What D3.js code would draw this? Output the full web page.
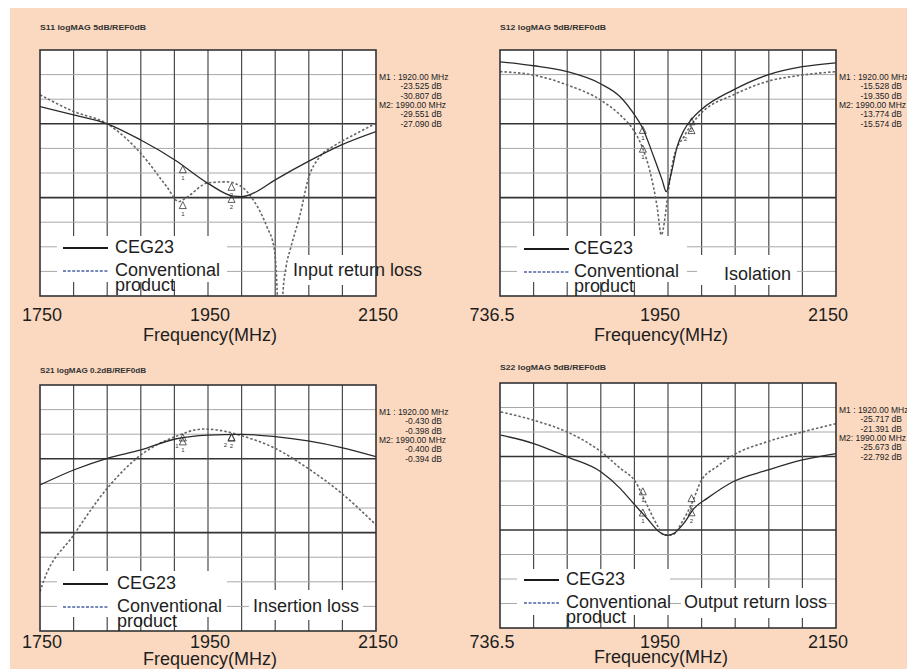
<!DOCTYPE html>
<html>

<style>
    body {
        margin: 0;
        background: #fff;
        font-family: "Liberation Sans", Arial, Helvetica, sans-serif;
    }

    text.big {
        font-size: 18px;
        fill: #1e1e1e;
    }

    text.readout {
        font-size: 8.5px;
        fill: #222;
    }

    text.title {
        font-size: 8px;
        font-weight: bold;
        fill: #333;
    }
</style>

<body>
    <svg id='viz' width='907' height='669'></svg>

<script src="https://cdnjs.cloudflare.com/ajax/libs/d3/7.8.5/d3.min.js"></script>

<script>
    // x axis of every panel: 1750 - 2150 MHz, 10 divisions
    var freqDomain = [1750, 2150];
    var tickFreqs = [1750, 1950, 2150];
    var tickLabelsLeft = ['1750', '1950', '2150'];
    var tickLabelsRight = ['736.5', '1950', '2150'];

    // marker frequencies as printed, and where the triangles sit on the drawn trace
    var markerFreqs = [1920, 1990];
    var markerTraceFreqs = [1920, 1978];

    // S11 input return loss (dB)
    var s11CegFreq = [1750, 1790, 1830, 1870, 1911, 1950, 1980, 1990, 2004, 2030, 2069, 2109, 2150];
    var s11CegDb = [-11.5, -13.2, -15.0, -18.3, -22.4, -27.1, -29.7, -29.8, -29.1, -26.4, -22.7, -19.3, -16.6];
    var s11ConvFreq = [1750, 1790, 1830, 1870, 1901, 1915, 1925, 1950, 1972, 1990, 2004, 2020, 2029, 2032.5, 2035.5, 2039, 2043, 2048, 2060, 2069, 2083, 2099, 2123, 2150];
    var s11ConvDb = [-9.1, -12.5, -15.0, -21.0, -27.8, -30.8, -29.9, -27.0, -26.8, -27.8, -30.5, -35.9, -40.5, -50, -70, -50, -44, -40.5, -33.2, -26.4, -21.7, -19.6, -17.3, -14.9];
    var s11Readout = [[-23.525, -30.807], [-29.551, -27.090]];

    // S12 isolation (dB)
    var s12CegFreq = [1750, 1790, 1830, 1869, 1893, 1909, 1919, 1933, 1943, 1948, 1953, 1961, 1969, 1979, 1989, 2028, 2068, 2110, 2150];
    var s12CegDb = [-2.4, -3.2, -4.4, -6.8, -9.5, -12.9, -15.6, -21.7, -26.4, -28.8, -25.7, -19.6, -16.3, -13.9, -12.2, -8.1, -5.1, -3.4, -2.6];
    var s12ConvFreq = [1750, 1790, 1830, 1870, 1893, 1909, 1919, 1929, 1937, 1942, 1946, 1949, 1957, 1969, 1979, 1989, 2028, 2068, 2110, 2150];
    var s12ConvDb = [-4.4, -5.1, -7.1, -10.2, -13.2, -16.3, -19.6, -25.0, -31.8, -37.6, -34.6, -30.5, -21.7, -17.6, -14.9, -12.9, -9.1, -6.4, -5.1, -4.4];
    var s12Readout = [[-15.528, -19.350], [-13.774, -15.574]];

    // S21 insertion loss (dB)
    var s21CegFreq = [1750, 1790, 1830, 1870, 1911, 1950, 1990, 2030, 2069, 2109, 2150];
    var s21CegDb = [-0.813, -0.691, -0.596, -0.528, -0.439, -0.407, -0.401, -0.420, -0.455, -0.509, -0.583];
    var s21ConvFreq = [1750, 1754, 1790, 1830, 1870, 1911, 1944, 1972, 1990, 2030, 2069, 2109, 2150];
    var s21ConvDb = [-1.68, -1.60, -1.22, -0.84, -0.569, -0.420, -0.358, -0.379, -0.412, -0.515, -0.678, -0.880, -1.138];
    var s21Readout = [[-0.430, -0.398], [-0.400, -0.394]];

    // S22 output return loss (dB)
    var s22CegFreq = [1751, 1790, 1830, 1870, 1893, 1909, 1925, 1939, 1949, 1957, 1969, 1981, 1997, 2028, 2068, 2110, 2150];
    var s22CegDb = [-10.65, -12.35, -15.06, -18.1, -21.5, -24.6, -27.6, -30.3, -31.1, -30.7, -28.6, -25.6, -23.5, -20.1, -17.8, -15.7, -14.4];
    var s22ConvFreq = [1751, 1790, 1830, 1870, 1893, 1911, 1925, 1937, 1945, 1955, 1967, 1981, 1989, 2008, 2028, 2068, 2110, 2150];
    var s22ConvDb = [-5.9, -7.6, -10.0, -14.0, -17.4, -20.1, -24.9, -29.0, -31.0, -31.0, -28.3, -23.5, -20.1, -17.1, -14.7, -12.0, -10.0, -8.3];
    var s22Readout = [[-25.717, -21.391], [-25.673, -22.792]];

    var seriesNames = ['CEG23', 'Conventional', 'product'];

    // layout of the four panels
    var panels = [
        { x0: 40, y0: 50, h: 246, perDiv: 5, title: 'S11 logMAG 5dB/REF0dB', titleY: 30,
          ceg: [s11CegFreq, s11CegDb], conv: [s11ConvFreq, s11ConvDb], readout: s11Readout,
          ticks: tickLabelsLeft, tickDx: 2, tickDy: 25, freqX: 170, freqDy: 45,
          legLine: [23, 68], legText: 75, legY: [203, 226, 241], legBox: [17, 187],
          label: 'Input return loss', labelX: 253, labelY: 226, labelBox: [247, 336] },
        { x0: 500, y0: 50, h: 246, perDiv: 5, title: 'S12 logMAG 5dB/REF0dB', titleY: 30,
          ceg: [s12CegFreq, s12CegDb], conv: [s12ConvFreq, s12ConvDb], readout: s12Readout,
          ticks: tickLabelsRight, tickDx: -8, tickDy: 25, freqX: 161, freqDy: 45,
          legLine: [24, 69], legText: 74, legY: [204, 227, 242], legBox: [17, 187],
          label: 'Isolation', labelX: 224, labelY: 230, labelBox: [197, 297] },
        { x0: 40, y0: 385, h: 246, perDiv: 0.2, title: 'S21 logMAG 0.2dB/REF0dB', titleY: 373,
          ceg: [s21CegFreq, s21CegDb], conv: [s21ConvFreq, s21ConvDb], readout: s21Readout,
          ticks: tickLabelsLeft, tickDx: 2, tickDy: 17, freqX: 170, freqDy: 34,
          legLine: [23, 68], legText: 77, legY: [204, 227, 242], legBox: [17, 187],
          label: 'Insertion loss', labelX: 213, labelY: 227, labelBox: [209, 323] },
        { x0: 500, y0: 383, h: 245, perDiv: 5, title: 'S22 logMAG 5dB/REF0dB', titleY: 370,
          ceg: [s22CegFreq, s22CegDb], conv: [s22ConvFreq, s22ConvDb], readout: s22Readout,
          ticks: tickLabelsRight, tickDx: -8, tickDy: 20, freqX: 161, freqDy: 35,
          legLine: [24, 59], legText: 66, legY: [202, 225, 240], legBox: [17, 170],
          label: 'Output return loss', labelX: 184, labelY: 225, labelBox: [181, 322] }
    ];

    var svg = d3.select('#viz');

    svg.append('rect')
        .attr('x', 10)
        .attr('y', 8)
        .attr('width', 897)
        .attr('height', 661)
        .attr('fill', '#fbd9c1');

    panels.forEach(drawPanel);

    function drawPanel(p, idx) {
        var w = 336;
        var x = d3.scaleLinear().domain(freqDomain).range([p.x0, p.x0 + w]);
        var y = d3.scaleLinear().domain([0, -10 * p.perDiv]).range([p.y0, p.y0 + p.h]);
        var g = svg.append('g');

        g.append('rect')
            .attr('x', p.x0).attr('y', p.y0)
            .attr('width', w).attr('height', p.h)
            .attr('fill', '#fff');

        // grid: 10 x 10 divisions
        var step = (freqDomain[1] - freqDomain[0]) / 10;
        d3.range(1, 10).forEach(function(i) {
            g.append('line')
                .attr('x1', x(freqDomain[0] + i * step)).attr('x2', x(freqDomain[0] + i * step))
                .attr('y1', p.y0).attr('y2', p.y0 + p.h)
                .attr('stroke', '#4a4a4a')
                .attr('stroke-width', 1.2);

            var major = (i === 3 || i === 6);
            g.append('line')
                .attr('x1', p.x0).attr('x2', p.x0 + w)
                .attr('y1', y(-i * p.perDiv)).attr('y2', y(-i * p.perDiv))
                .attr('stroke', major ? '#333' : '#a8a8a8')
                .attr('stroke-width', major ? 1.6 : 1);
        });

        // white patches behind the legend and the panel label
        g.append('rect')
            .attr('x', p.x0 + p.legBox[0]).attr('y', p.y0 + 186)
            .attr('width', p.legBox[1] - p.legBox[0]).attr('height', 46)
            .attr('fill', '#fff');
        g.append('rect')
            .attr('x', p.x0 + p.labelBox[0]).attr('y', p.y0 + 205)
            .attr('width', p.labelBox[1] - p.labelBox[0]).attr('height', 30)
            .attr('fill', '#fff');

        // traces
        var clipId = 'clip' + idx;
        g.append('clipPath').attr('id', clipId)
            .append('rect')
            .attr('x', p.x0).attr('y', p.y0)
            .attr('width', w).attr('height', p.h);

        var line = d3.line()
            .x(function(d) { return x(d[0]); })
            .y(function(d) { return y(d[1]); })
            .curve(d3.curveMonotoneX);

        g.append('path')
            .datum(d3.zip(p.conv[0], p.conv[1]))
            .attr('clip-path', 'url(#' + clipId + ')')
            .attr('d', line)
            .attr('fill', 'none')
            .attr('stroke', '#666')
            .attr('stroke-width', 1.6)
            .attr('stroke-dasharray', '2.5,2');

        g.append('path')
            .datum(d3.zip(p.ceg[0], p.ceg[1]))
            .attr('clip-path', 'url(#' + clipId + ')')
            .attr('d', line)
            .attr('fill', 'none')
            .attr('stroke', '#2a2a2a')
            .attr('stroke-width', 1.3);

        // marker triangles: apex on the trace, number underneath
        markerTraceFreqs.forEach(function(f, k) {
            var ys = p.readout[k].map(function(v) { return y(v); });
            var close = Math.abs(ys[0] - ys[1]) < 9;
            ys.forEach(function(my, j) {
                var mx = x(f);
                g.append('path')
                    .attr('d', 'M' + mx + ',' + my + 'l3.5,7h-7z')
                    .attr('fill', 'none')
                    .attr('stroke', '#333')
                    .attr('stroke-width', 0.8);
                g.append('text')
                    .attr('x', mx + (close && j === 1 ? -6 : 0))
                    .attr('y', my + 14)
                    .attr('text-anchor', 'middle')
                    .attr('font-size', '6px')
                    .attr('fill', '#333')
                    .text(k + 1);
            });
        });

        // frame
        g.append('rect')
            .attr('x', p.x0).attr('y', p.y0)
            .attr('width', w).attr('height', p.h)
            .attr('fill', 'none')
            .attr('stroke', '#333')
            .attr('stroke-width', 1.6);

        // legend
        g.append('line')
            .attr('x1', p.x0 + p.legLine[0]).attr('x2', p.x0 + p.legLine[1])
            .attr('y1', p.y0 + p.legY[0] - 5).attr('y2', p.y0 + p.legY[0] - 5)
            .attr('stroke', '#1a1a1a')
            .attr('stroke-width', 2);
        g.append('line')
            .attr('x1', p.x0 + p.legLine[0]).attr('x2', p.x0 + p.legLine[1])
            .attr('y1', p.y0 + p.legY[1] - 5).attr('y2', p.y0 + p.legY[1] - 5)
            .attr('stroke', '#4a62a0')
            .attr('stroke-width', 1.6)
            .attr('stroke-dasharray', '3,1.6');

        seriesNames.forEach(function(name, i) {
            g.append('text')
                .attr('class', 'big')
                .attr('x', p.x0 + p.legText)
                .attr('y', p.y0 + p.legY[i])
                .text(name);
        });

        g.append('text')
            .attr('class', 'big')
            .attr('x', p.x0 + p.labelX)
            .attr('y', p.y0 + p.labelY)
            .text(p.label);

        // x tick labels and axis title
        tickFreqs.forEach(function(f, i) {
            g.append('text')
                .attr('class', 'big')
                .attr('x', x(f) + p.tickDx)
                .attr('y', p.y0 + p.h + p.tickDy)
                .attr('text-anchor', 'middle')
                .text(p.ticks[i]);
        });

        g.append('text')
            .attr('class', 'big')
            .attr('x', p.x0 + p.freqX)
            .attr('y', p.y0 + p.h + p.freqDy)
            .attr('text-anchor', 'middle')
            .text('Frequency(MHz)');

        // analyzer header
        g.append('text')
            .attr('class', 'title')
            .attr('x', p.x0)
            .attr('y', p.titleY)
            .attr('textLength', 106)
            .attr('lengthAdjust', 'spacingAndGlyphs')
            .text(p.title);

        // marker readout
        var rows = [];
        markerFreqs.forEach(function(f, k) {
            rows.push({ head: true, t: 'M' + (k + 1) + (k === 0 ? ' : ' : ': ') + f.toFixed(2) + ' MHz' });
            p.readout[k].forEach(function(v) {
                rows.push({ head: false, t: v.toFixed(3) + ' dB' });
            });
        });
        rows.forEach(function(r, i) {
            g.append('text')
                .attr('class', 'readout')
                .attr('x', r.head ? p.x0 + 339 : p.x0 + 402)
                .attr('y', p.y0 + 30 + i * 9.3)
                .attr('text-anchor', r.head ? 'start' : 'end')
                .text(r.t);
        });
    }
</script>
</body>
</html>
